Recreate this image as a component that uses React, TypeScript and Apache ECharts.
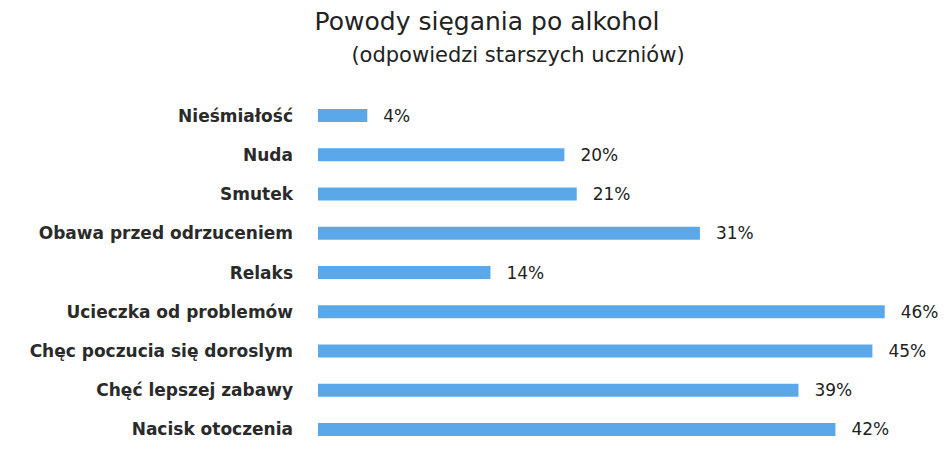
import React, { useEffect, useRef } from "react";
import * as echarts from "echarts";

const titleText = "Powody sięgania po alkohol";
const subtitleText = "(odpowiedzi starszych uczniów)";
const categories = [
  "Nieśmiałość",
  "Nuda",
  "Smutek",
  "Obawa przed odrzuceniem",
  "Relaks",
  "Ucieczka od problemów",
  "Chęc poczucia się doroslym",
  "Chęć lepszej zabawy",
  "Nacisk otoczenia",
];
const values = [4, 20, 21, 31, 14, 46, 45, 39, 42];

export default function App() {
  const ref = useRef<HTMLDivElement>(null);
  useEffect(() => {
    document.body.style.margin = "0";
    if (!ref.current) return;
    const chart = echarts.init(ref.current, undefined, { renderer: "svg" });
    chart.setOption({
      animation: false,
      backgroundColor: "#ffffff",
      title: [
        {
          text: titleText,
          left: 482,
          top: 4,
          textAlign: "center",
          textStyle: { fontFamily: "DejaVu Sans", fontSize: 25, fontWeight: "normal", color: "#222" },
        },
        {
          text: subtitleText,
          left: 513,
          top: 39,
          textAlign: "center",
          textStyle: { fontFamily: "DejaVu Sans", fontSize: 21, fontWeight: "normal", color: "#222" },
        },
      ],
      grid: { left: 318, right: 10, top: 96, bottom: 19, containLabel: false },
      xAxis: {
        type: "value",
        min: 0,
        max: 50,
        show: false,
      },
      yAxis: {
        type: "category",
        data: categories,
        inverse: true,
        axisLine: { show: false },
        axisTick: { show: false },
        splitLine: { show: false },
        axisLabel: {
          margin: 25,
          fontFamily: "DejaVu Sans",
          fontSize: 17,
          fontWeight: "bold",
          color: "#2a2a2a",
        },
      },
      series: [
        {
          type: "bar",
          data: values,
          barWidth: 13,
          itemStyle: { color: "#5aa8ea" },
          label: {
            show: true,
            position: "right",
            distance: 16,
            formatter: "{c}%",
            fontFamily: "DejaVu Sans",
            fontSize: 17,
            color: "#222",
          },
        },
      ],
    });
    return () => chart.dispose();
  }, []);
  return <div ref={ref} style={{ width: 944, height: 468 }} />;
}
